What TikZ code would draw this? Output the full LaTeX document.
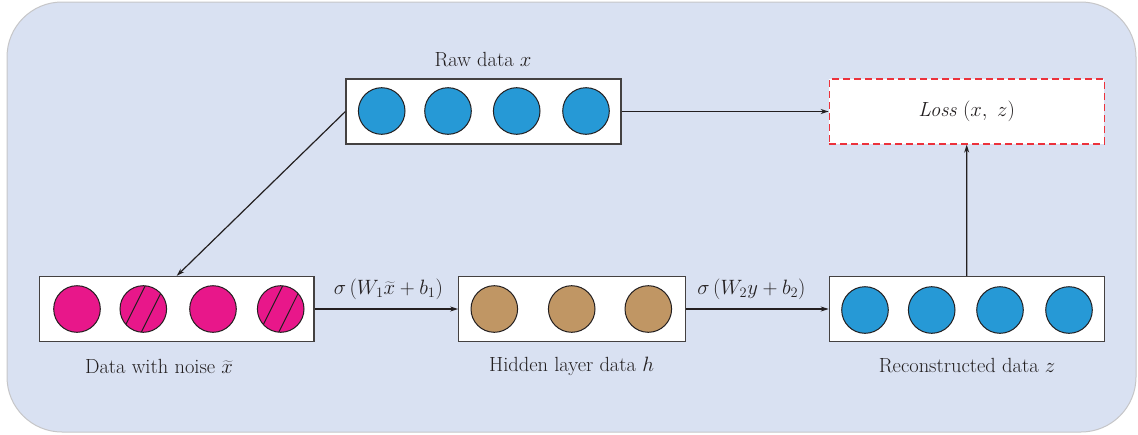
\documentclass[tikz,border=0pt]{standalone}
\usetikzlibrary{arrows.meta}
\definecolor{bgfill}{RGB}{217,225,242}
\definecolor{bgline}{RGB}{198,198,200}
\definecolor{ink}{RGB}{35,31,32}
\definecolor{cblue}{RGB}{38,153,214}
\definecolor{cmag}{RGB}{232,23,138}
\definecolor{cbrown}{RGB}{192,150,100}
\definecolor{lossred}{RGB}{236,50,60}
\begin{document}
\begin{tikzpicture}[x=1pt,y=-1pt,
  font=\fontsize{20.5}{23}\selectfont,
  databox/.style={draw=ink!85, fill=white, line width=1.2pt, minimum height=65pt, inner sep=0pt},
  unit/.style={circle, draw=ink, line width=1pt, minimum size=46.6pt, inner sep=0pt},
  hatched/.style={path picture={\begin{scope}[shift={(path picture bounding box.center)}]
      \draw[ink, line width=1pt] (-21.1,22.95) -- (5.7,-30.65) (-5.7,30.65) -- (21.1,-23);
      \end{scope}}},
  arr/.style={draw=ink, line width=1.2pt, -{Stealth[length=8pt,width=5pt]}},
  lbl/.style={text=ink, inner sep=0pt}]
\useasboundingbox (0,0) rectangle (1138,434);
\draw[draw=bgline, fill=bgfill, line width=1pt, rounded corners=55pt] (7,2) rectangle (1136,432);

% boxes
\node[databox, minimum width=275pt] (raw) at (483.5,111.5) {};
\node[databox, minimum width=274.7pt] (noise) at (176.7,309) {};
\node[databox, minimum width=227pt] (hidden) at (572.2,309) {};
\node[databox, minimum width=275pt] (recon) at (966.8,309) {};
\node[draw=lossred, dashed, dash pattern=on 7pt off 4pt, fill=white, line width=1.2pt,
      minimum width=275pt, minimum height=65pt, inner sep=0pt, text=ink] (loss) at (966.7,111.5)
      {\textit{Loss} $(x,\ z)$};

% circles
\node[unit, fill=cblue] (r1) at (381.7,111) {};
\node[unit, fill=cblue] (r2) at (448,111) {};
\node[unit, fill=cblue] (r3) at (516.7,111) {};
\node[unit, fill=cblue] (r4) at (586,111) {};

\node[unit, fill=cmag] (n1) at (77,309) {};
\node[unit, fill=cmag, hatched] (n2) at (143.3,309) {};
\node[unit, fill=cmag] (n3) at (213,309) {};
\node[unit, fill=cmag, hatched] (n4) at (280.7,309) {};

\node[unit, fill=cbrown] (h1) at (494.3,309) {};
\node[unit, fill=cbrown] (h2) at (571.7,309) {};
\node[unit, fill=cbrown] (h3) at (648.3,309) {};

\node[unit, fill=cblue] (z1) at (865,310) {};
\node[unit, fill=cblue] (z2) at (931.7,310) {};
\node[unit, fill=cblue] (z3) at (1000,310) {};
\node[unit, fill=cblue] (z4) at (1069,310) {};

% labels
\node[lbl] (lraw) at (483,60) {Raw data $x$};
\node[lbl] (lnoise) at (159,366) {Data with noise $\widetilde{x}$};
\node[lbl] (lhidden) at (571.5,366) {Hidden layer data $h$};
\node[lbl] (lrecon) at (967,366) {Reconstructed data $z$};

% connectors
\draw[arr] (raw.west) -- (noise.north);
\draw[arr] (raw.east) -- (loss.west);
\draw[arr] (noise.east) -- node[lbl, above=9pt, xshift=2pt] (f1) {$\sigma\,(W_1\widetilde{x} + b_1)$} (hidden.west);
\draw[arr] (hidden.east) -- node[lbl, above=9pt, xshift=-6pt] (f2) {$\sigma\,(W_2 y + b_2)$} (recon.west);
\draw[arr] (recon.north) -- (loss.south);
\end{tikzpicture}
\end{document}
